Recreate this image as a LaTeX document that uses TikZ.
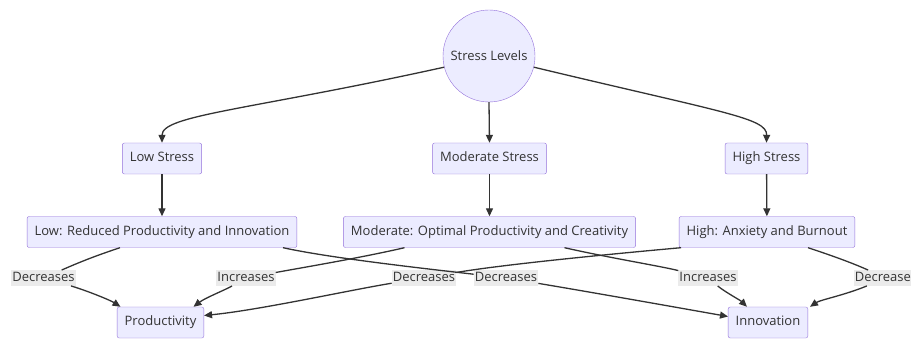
\documentclass[tikz,border=0pt]{standalone}
\usepackage{fontspec}
\setmainfont{Open Sans}
\usepackage{tikz}
\usetikzlibrary{arrows.meta,positioning}
\definecolor{nodefill}{RGB}{236,236,255}
\definecolor{nodeline}{RGB}{147,112,219}
\definecolor{inkgray}{RGB}{51,51,51}
\definecolor{labelbg}{RGB}{232,232,232}

\begin{document}
\begin{tikzpicture}[x=1pt, y=-1pt,
    every node/.style={font=\fontsize{13}{15}\selectfont, text=inkgray},
    box/.style={draw=nodeline, fill=nodefill, rounded corners=2pt, minimum height=31pt,
      text height=9.5pt, text depth=3pt, inner xsep=7.5pt},
    hub/.style={circle, draw=nodeline, fill=nodefill, minimum size=92pt, inner sep=0pt},
    lbl/.style={fill=labelbg, fill opacity=0.85, text opacity=1, inner xsep=1pt, inner ysep=1.5pt,
      text height=9.5pt, text depth=3pt},
    flow/.style={draw=inkgray, line width=1.3pt, -{Triangle[length=8pt,width=7pt]}}]
  \useasboundingbox (0,0) rectangle (911,339);
  % top
  \node[hub] (sl) at (489,56) {Stress Levels};
  % stress levels
  \node[box] (low) at (162,158.5) {Low Stress};
  \node[box] (mod) at (489.5,158.5) {Moderate Stress};
  \node[box] (high) at (766.5,158.5) {High Stress};
  % effects
  \node[box] (lowr) at (162,232) {Low: Reduced Productivity and Innovation};
  \node[box] (modr) at (489.5,232) {Moderate: Optimal Productivity and Creativity};
  \node[box] (highr) at (767,232) {High: Anxiety and Burnout};
  % outcomes
  \node[box] (prod) at (160.5,322.5) {Productivity};
  \node[box] (inn) at (768,322.5) {Innovation};
  % edge labels
  \node[lbl] (dA) at (43.5,278) {Decreases};
  \node[lbl] (iA) at (246,278) {Increases};
  \node[lbl] (dB) at (424,278) {Decreases};
  \node[lbl] (dC) at (506,278) {Decreases};
  \node[lbl] (iB) at (708,278) {Increases};
  \node[lbl] (dD) at (886,278) {Decreases};

  \draw[flow] (sl.194) .. controls (250,110) and (162,115) .. (low.north);
  \draw[flow] (sl.south) -- (mod.north);
  \draw[flow] (sl.-14) .. controls (725,113) and (767,118) .. (high.north);
  \draw[flow] (low) -- (lowr);
  \draw[flow] (mod) -- (modr);
  \draw[flow] (high) -- (highr);

  \draw[flow] ([xshift=-42pt]lowr.south) .. controls (95,256) and (80,262) .. (dA)
    .. controls (85,290) and (110,300) .. ([xshift=-40pt]prod.north);
  \draw[flow] ([xshift=-85pt]modr.south) .. controls (360,258) and (300,268) .. (iA)
    .. controls (225,290) and (205,298) .. ([xshift=33pt]prod.north);
  \draw[flow] ([xshift=-86pt]highr.south) .. controls (600,255) and (500,265) .. (dB)
    .. controls (350,290) and (260,310) .. ([yshift=7pt]prod.east);
  \draw[flow] ([xshift=121pt]lowr.south) .. controls (330,258) and (420,268) .. (dC)
    .. controls (590,292) and (680,308) .. ([yshift=6pt]inn.west);
  \draw[flow] ([xshift=75pt]modr.south) .. controls (610,258) and (660,266) .. (iB)
    .. controls (725,292) and (740,300) .. ([xshift=-21pt]inn.north);
  \draw[flow] ([xshift=41pt]highr.south) .. controls (830,255) and (850,262) .. (dD)
    .. controls (845,295) and (820,300) .. ([xshift=42pt]inn.north);
\end{tikzpicture}
\end{document}
